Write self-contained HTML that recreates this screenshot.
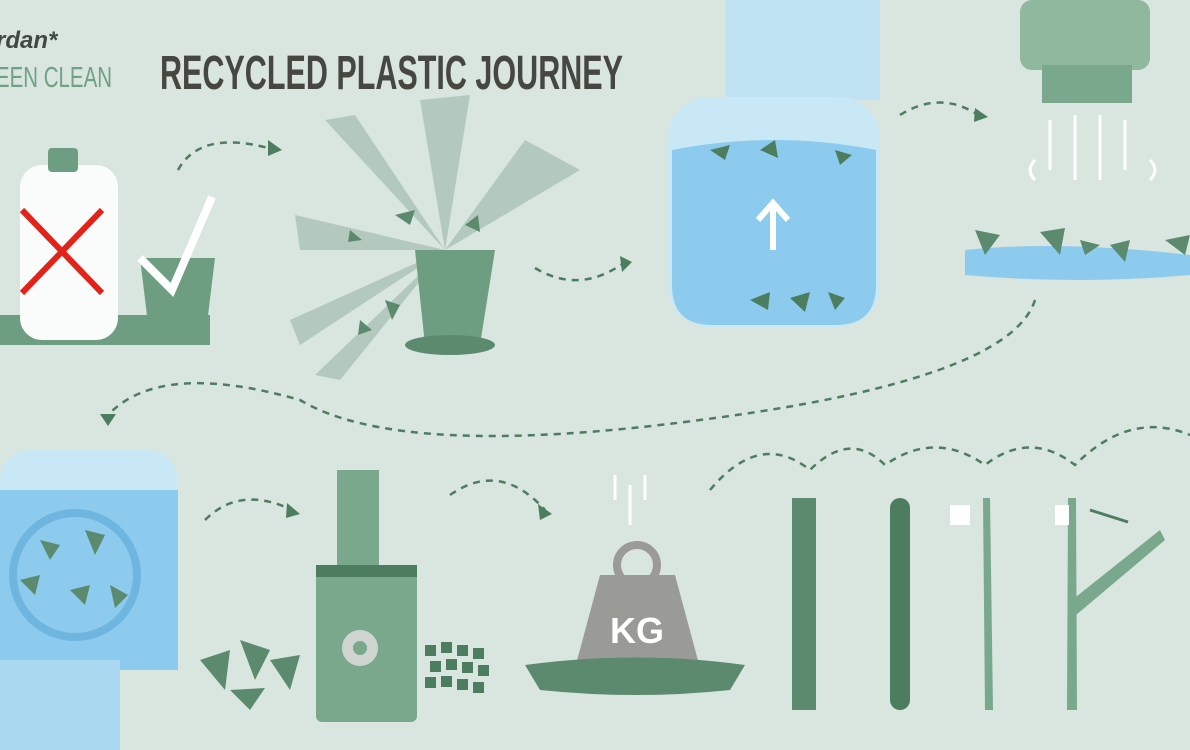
<!DOCTYPE html>
<html><head><meta charset="utf-8"><style>
html,body{margin:0;padding:0;background:#d9e5df;}
svg{display:block}
</style></head><body>
<svg width="1190" height="750" viewBox="0 0 1190 750" xmlns="http://www.w3.org/2000/svg">
<rect width="1190" height="750" fill="#d9e5df"/>
<text x="-4" y="48" font-family="Liberation Sans, sans-serif" font-weight="bold" font-style="italic" font-size="24" fill="#3f4a44">rdan*</text>
<text x="-4" y="87" font-family="Liberation Sans Narrow, Liberation Sans, sans-serif" font-size="29" fill="#6fa285" textLength="116" lengthAdjust="spacingAndGlyphs">EEN CLEAN</text>
<text x="160" y="89" font-family="Liberation Sans Narrow, Liberation Sans, sans-serif" font-weight="bold" font-size="48" fill="#464741" textLength="463" lengthAdjust="spacingAndGlyphs">RECYCLED PLASTIC JOURNEY</text>

<g fill="none" stroke="#4d7d5f" stroke-width="2.5" stroke-dasharray="7 6">
<path d="M178 170 Q200 130 268 148"/>
<path d="M535 268 Q580 295 625 262"/>
<path d="M900 115 Q940 90 978 115"/>
<path d="M1035 300 Q1010 380 700 420 Q400 460 300 400 Q160 360 108 415"/>
<path d="M205 520 Q240 485 292 510"/>
<path d="M450 495 Q500 460 545 510"/>
<path d="M710 490 Q760 430 810 470 Q850 430 885 465 Q935 430 985 465 Q1030 430 1075 465 Q1130 410 1190 435"/>
</g>
<g fill="#4d7d5f">
<polygon points="268,140 282,150 268,156"/><polygon points="620,256 632,262 622,272"/>
<polygon points="975,108 988,117 974,122"/><polygon points="100,414 116,414 108,426"/>
<polygon points="287,503 300,514 286,518"/><polygon points="538,504 552,514 540,520"/>
</g>

<rect x="0" y="315" width="210" height="30" fill="#6e9e82"/>
<rect x="20" y="165" width="98" height="175" rx="22" fill="#fafcfb"/>
<rect x="48" y="148" width="30" height="24" rx="4" fill="#6e9e82"/>
<line x1="22" y1="210" x2="102" y2="293" stroke="#e2231a" stroke-width="6"/>
<line x1="102" y1="210" x2="22" y2="293" stroke="#e2231a" stroke-width="6"/>
<path d="M140 258 L215 258 L205 340 L150 340 Z" fill="#6e9e82"/>
<path d="M140 258 L172 290 L212 197" fill="none" stroke="#fff" stroke-width="8"/>

<g fill="#b4c9bd">
<polygon points="445,250 325,120 355,115"/><polygon points="445,250 420,100 470,95"/>
<polygon points="445,250 525,140 580,170"/><polygon points="445,250 295,215 300,250"/>
<polygon points="445,250 290,320 300,345"/><polygon points="445,250 315,375 340,380"/>
</g>
<path d="M415 250 L495 250 L480 345 L425 345 Z" fill="#6e9e82"/>
<ellipse cx="450" cy="345" rx="45" ry="10" fill="#5b8a6e"/>
<g fill="#5b8a6e"><polygon points="395,215 415,210 410,225"/><polygon points="350,230 362,240 348,242"/><polygon points="360,320 372,330 358,335"/><polygon points="465,225 478,215 480,232"/><polygon points="385,300 400,305 392,320"/></g>

<rect x="725" y="0" width="155" height="100" fill="#bfe3f3"/>
<rect x="668" y="97" width="212" height="230" rx="42" fill="#c9e8f5"/>
<path d="M672 150 Q775 130 876 150 L876 285 Q876 325 836 325 L712 325 Q672 325 672 285 Z" fill="#8ccbed"/>
<path d="M773 250 L773 205 M758 220 L773 203 L788 220" stroke="#fff" stroke-width="6" fill="none"/>
<g fill="#4d7d5f"><polygon points="710,150 730,145 725,160"/><polygon points="760,150 775,140 778,158"/><polygon points="835,150 852,155 840,165"/><polygon points="750,300 770,292 768,310"/><polygon points="790,298 810,292 805,312"/><polygon points="828,292 845,298 835,310"/></g>

<rect x="1020" y="0" width="130" height="70" rx="12" fill="#8fb89e"/>
<rect x="1042" y="65" width="90" height="38" fill="#7aa88c"/>
<g stroke="#fff" stroke-width="3" fill="none"><path d="M1050 120 L1050 170"/><path d="M1075 115 L1075 180"/><path d="M1100 115 L1100 180"/><path d="M1125 120 L1125 170"/><path d="M1035 160 q-10 10 0 20"/><path d="M1150 160 q10 10 0 20"/></g>
<path d="M965 250 Q1060 240 1190 255 L1190 275 Q1080 285 965 275 Z" fill="#8ccbed"/>
<g fill="#5b8a6e"><polygon points="975,230 1000,235 985,255"/><polygon points="1040,232 1065,228 1060,255"/><polygon points="1080,240 1100,245 1085,255"/><polygon points="1110,245 1130,240 1125,262"/><polygon points="1165,240 1190,235 1185,255"/></g>

<rect x="0" y="450" width="178" height="220" rx="30" fill="#c9e8f5"/>
<rect x="0" y="490" width="178" height="180" fill="#8ccbed"/>
<rect x="0" y="660" width="120" height="90" fill="#a9d8f0"/>
<circle cx="75" cy="575" r="62" fill="none" stroke="#5aa8d6" stroke-width="8" opacity="0.6"/>
<g fill="#5b8a6e"><polygon points="40,540 60,545 50,560"/><polygon points="85,530 105,535 95,555"/><polygon points="20,580 40,575 35,595"/><polygon points="70,590 90,585 85,605"/><polygon points="110,585 128,595 115,608"/></g>

<rect x="337" y="470" width="42" height="110" fill="#7aa88c"/>
<rect x="316" y="565" width="101" height="157" rx="6" fill="#7aa88c"/>
<rect x="316" y="565" width="101" height="12" fill="#4d7d5f"/>
<circle cx="360" cy="648" r="18" fill="#cfd6d2"/><circle cx="360" cy="648" r="7" fill="#7aa88c"/>
<g fill="#5b8a6e"><polygon points="200,660 230,650 225,690"/><polygon points="240,640 270,650 255,680"/><polygon points="270,660 300,655 290,690"/><polygon points="230,690 265,688 250,710"/></g>
<g fill="#4d7d5f">
<rect x="425" y="645" width="11" height="11"/><rect x="441" y="642" width="11" height="11"/><rect x="457" y="645" width="11" height="11"/><rect x="473" y="648" width="11" height="11"/>
<rect x="430" y="661" width="11" height="11"/><rect x="446" y="659" width="11" height="11"/><rect x="462" y="662" width="11" height="11"/><rect x="478" y="665" width="11" height="11"/>
<rect x="425" y="677" width="11" height="11"/><rect x="441" y="676" width="11" height="11"/><rect x="457" y="679" width="11" height="11"/><rect x="473" y="682" width="11" height="11"/>
</g>

<g stroke="#fff" stroke-width="3"><line x1="615" y1="475" x2="615" y2="500"/><line x1="630" y1="485" x2="630" y2="525"/><line x1="645" y1="475" x2="645" y2="500"/></g>
<circle cx="637" cy="565" r="20" fill="none" stroke="#9a9a96" stroke-width="8"/>
<path d="M600 575 L675 575 L700 668 L575 668 Z" fill="#9a9a96"/>
<text x="637" y="643" text-anchor="middle" font-family="Liberation Sans, sans-serif" font-weight="bold" font-size="36" fill="#fff">KG</text>
<path d="M525 665 Q637 650 745 665 L730 690 Q637 700 540 690 Z" fill="#5b8a6e"/>

<rect x="792" y="498" width="24" height="212" fill="#5b8a6e"/>
<rect x="890" y="498" width="20" height="212" rx="10" fill="#4d7d5f"/>
<path d="M983 498 L990 498 L993 710 L985 710 Z" fill="#7aa88c"/>
<rect x="950" y="505" width="20" height="20" fill="#fff"/>
<path d="M1068 498 L1076 498 L1077 710 L1067 710 Z" fill="#7aa88c"/>
<path d="M1072 600 L1160 530 L1165 540 L1076 615 Z" fill="#7aa88c"/>
<rect x="1055" y="505" width="14" height="20" fill="#fff"/>
<path d="M1090 510 L1128 522" stroke="#4d7d5f" stroke-width="3"/>
</svg>
</body></html>
